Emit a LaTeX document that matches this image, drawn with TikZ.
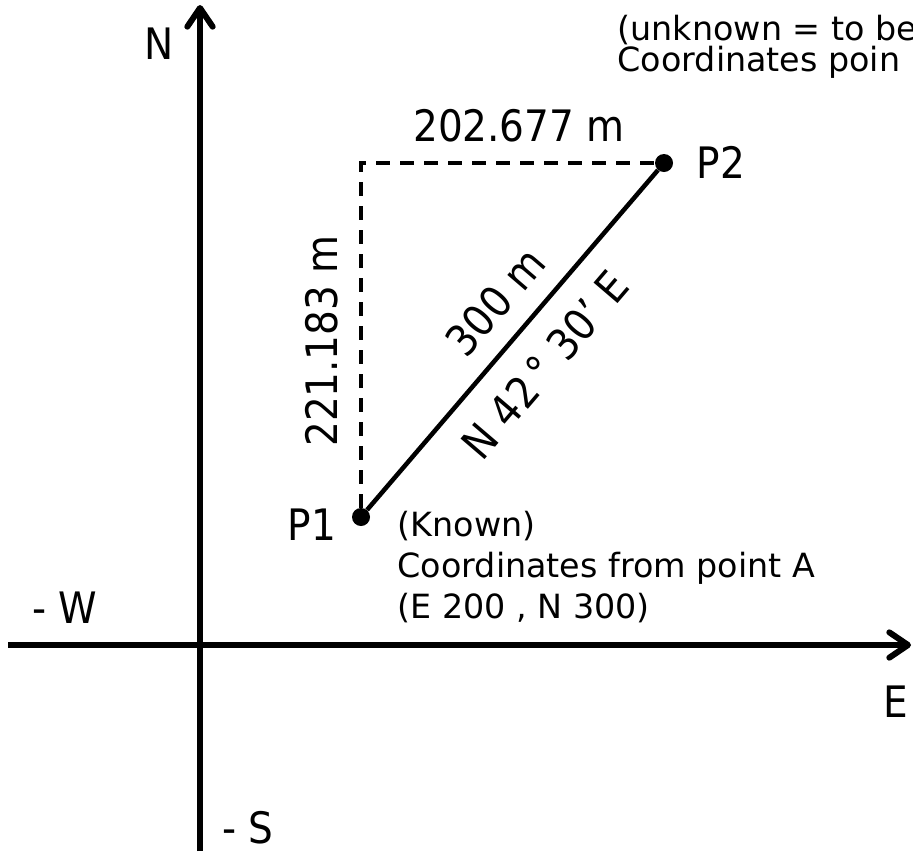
\documentclass[tikz,border=0pt]{standalone}
\usepackage{fontspec}
\setmainfont{DejaVu Sans}
\newfontfamily\condfont{DejaVu Sans Condensed}
\usetikzlibrary{arrows.meta}

\begin{document}
\begin{tikzpicture}[x=0.75pt, y=-0.75pt,
    axis/.style={line width=4.5pt, -{Straight Barb[length=14pt, width=19pt, round]}},
    dot/.style={circle, fill, inner sep=0pt, minimum size=13.5pt},
    dimline/.style={line width=3pt, dash pattern=on 10.5pt off 7.5pt},
    bearing/.style={line width=3.4pt},
    big/.style={font=\condfont\fontsize{32.5}{38}\selectfont},
    small/.style={font=\fontsize{25}{30.75}\selectfont, align=left}
]
\useasboundingbox (0,0) rectangle (913,851);

% Axes
\coordinate (ntop) at (200,5);
\coordinate (sbot) at (200,851);
\coordinate (wend) at (8,645);
\coordinate (etip) at (911,645);
\draw[axis] (sbot) -- (ntop);
\draw[axis] (wend) -- (etip);
\node[big] (nlbl) at (159,44) {N};
\node[big] (wlbl) at (65,608) {- W};
\node[big] (elbl) at (896,702) {E};
\node[big] (slbl) at (248,828) {- S};

% Points
\node[dot] (p1) at (361,517) {};
\node[dot] (p2) at (664,163) {};
\coordinate (corner) at (361,163);
\node[big] (p1lbl) at (312,525) {P1};
\node[big] (p2lbl) at (721,162) {P2};

% Lines
\draw[dimline] (p1) -- (corner) -- (p2);
\draw[bearing] (p1) -- node[big, pos=0.54, sloped, above=11pt] (dist) {300 m}
    node[big, pos=0.506, sloped, below=13.5pt] (brg) {N 42\,° 30’ E} (p2);
\node[big] (dx) at (519,126) {202.677 m};
\node[big, rotate=90] (dy) at (322,341) {221.183 m};

% Notes
\node[small, anchor=north west] (known) at (393,506) {(Known)\\Coordinates from point A\\(E 200 , N 300)};
\node[small, font=\fontsize{25}{22}\selectfont, anchor=north west] (unknown) at (613,10) {(unknown = to be\\Coordinates poin};
\end{tikzpicture}
\end{document}
